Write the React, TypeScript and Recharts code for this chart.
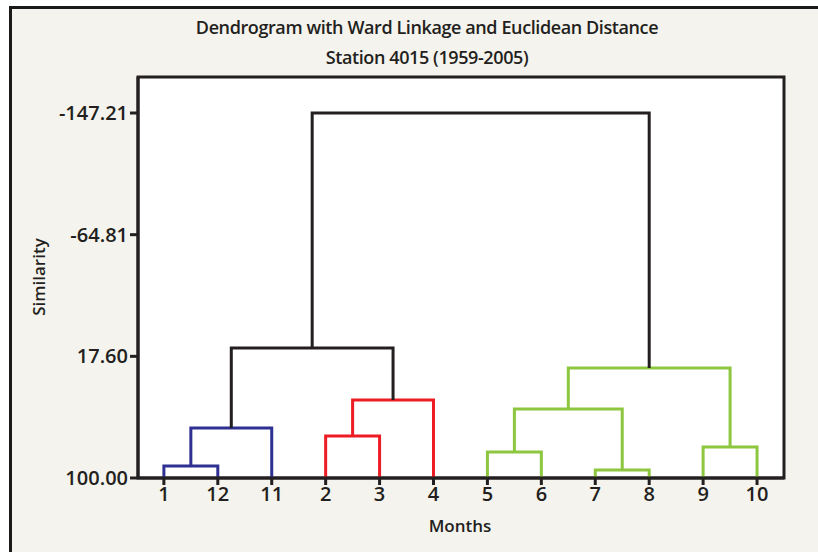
import {
  ComposedChart,
  Line,
  XAxis,
  YAxis,
  CartesianGrid,
  ReferenceArea,
} from "recharts";

// leaf order along the x axis (months)
const leafOrder = ["1", "12", "11", "2", "3", "4", "5", "6", "7", "8", "9", "10"];

// merges, in the order they happen
const mergeName = ["C1", "C2", "C3", "C4", "C5", "C6", "C7", "C8", "C9", "C10", "C11"];
const mergeLeft = ["1", "C1", "2", "C3", "C2", "5", "7", "C6", "9", "C8", "C5"];
const mergeRight = ["12", "11", "3", "4", "C4", "6", "8", "C7", "10", "C9", "C10"];
const mergeSimilarity = [91.9, 66.1, 71.6, 47.2, 12.0, 82.4, 94.6, 53.3, 79.0, 25.5, -147.21];

const yTicks = [-147.21, -64.81, 17.6, 100.0];

const BLUE = "#2e3192";
const RED = "#ed1c24";
const GREEN = "#8dc63f";
const BLACK = "#231f20";
const linkColors = [BLUE, BLUE, RED, RED, BLACK, GREEN, GREEN, GREEN, GREEN, GREEN, BLACK];

const FONT = "'Open Sans', sans-serif";

type Pt = { x: number; y: number };

function buildLinks() {
  const pos: Record<string, Pt> = {};
  leafOrder.forEach((m, i) => {
    pos[m] = { x: i + 1, y: 100 };
  });
  return mergeName.map((name, i) => {
    const a = pos[mergeLeft[i]];
    const b = pos[mergeRight[i]];
    const h = mergeSimilarity[i];
    pos[name] = { x: (a.x + b.x) / 2, y: h };
    return [
      { x: a.x, y: a.y },
      { x: a.x, y: h },
      { x: b.x, y: h },
      { x: b.x, y: b.y },
    ];
  });
}

export default function App() {
  const links = buildLinks();
  const yMin = -171.6;

  return (
    <div style={{ position: "absolute", left: 0, top: 0, width: 818, height: 552, overflow: "hidden", fontFamily: FONT }}>
      <div
        style={{
          position: "absolute",
          left: 9,
          top: 6,
          width: 840,
          height: 580,
          border: "3px solid #1a1a1a",
          background: "#f5f3ed",
        }}
      />
      <div style={{ position: "absolute", left: 0, width: 854, top: 15, textAlign: "center", fontSize: 18, fontWeight: 600, color: BLACK, letterSpacing: -0.4 }}>
        Dendrogram with Ward Linkage and Euclidean Distance
      </div>
      <div style={{ position: "absolute", left: 0, width: 854, top: 45, textAlign: "center", fontSize: 18, fontWeight: 600, color: BLACK, letterSpacing: -0.4 }}>
        Station 4015 (1959-2005)
      </div>
      <div
        style={{
          position: "absolute",
          left: 38,
          top: 277,
          transform: "translate(-50%, -50%) rotate(-90deg)",
          fontSize: 17,
          fontWeight: 600,
          color: BLACK,
          whiteSpace: "nowrap",
        }}
      >
        Similarity
      </div>
      <div style={{ position: "absolute", left: 460, top: 525, transform: "translate(-50%, -50%)", fontSize: 17, fontWeight: 600, color: BLACK }}>
        Months
      </div>
      <div style={{ position: "absolute", left: 0, top: 0 }}>
        <ComposedChart width={818} height={552} margin={{ top: 77, right: 34, bottom: 34, left: 0 }}>
          <CartesianGrid fill="#ffffff" horizontal={false} vertical={false} />
          <XAxis
            type="number"
            dataKey="x"
            domain={[0.52, 12.5]}
            ticks={leafOrder.map((_, i) => i + 1)}
            tickFormatter={(v: number) => leafOrder[v - 1]}
            allowDataOverflow
            height={40}
            axisLine={{ stroke: BLACK, strokeWidth: 3 }}
            tickLine={{ stroke: BLACK, strokeWidth: 3 }}
            tickSize={7}
            tick={{ fill: BLACK, fontSize: 20, fontWeight: 600, fontFamily: FONT }}
          />
          <YAxis
            type="number"
            reversed
            domain={[yMin, 100]}
            ticks={yTicks}
            tickFormatter={(v: number) => v.toFixed(2)}
            allowDataOverflow
            width={138}
            axisLine={{ stroke: BLACK, strokeWidth: 3 }}
            tickLine={{ stroke: BLACK, strokeWidth: 3 }}
            tickSize={8}
            tick={{ fill: BLACK, fontSize: 20, fontWeight: 600, fontFamily: FONT }}
          />
          <ReferenceArea x1={0.52} x2={12.5} y1={yMin} y2={100} fill="none" stroke={BLACK} strokeWidth={3} ifOverflow="visible" />
          {links.map((pts, i) => (
            <Line
              key={mergeName[i]}
              data={pts}
              dataKey="y"
              type="linear"
              stroke={linkColors[i]}
              strokeWidth={3}
              dot={false}
              activeDot={false}
              isAnimationActive={false}
            />
          ))}
        </ComposedChart>
      </div>
    </div>
  );
}
